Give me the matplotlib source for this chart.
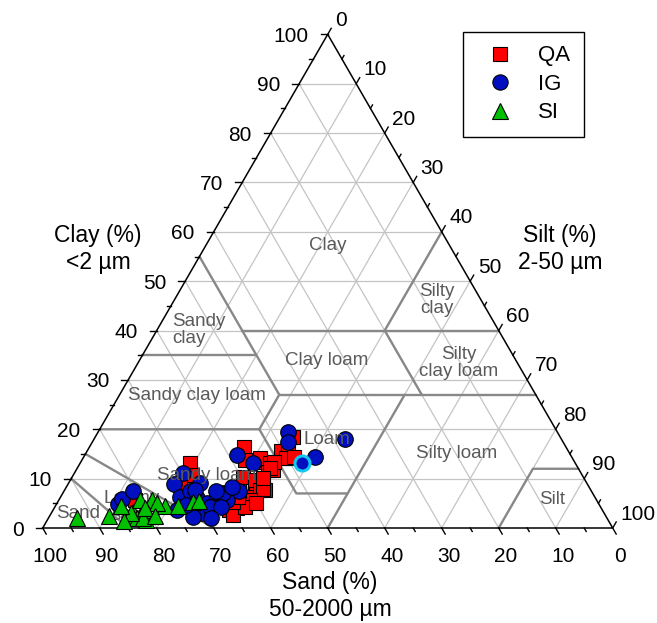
import numpy as np
import matplotlib
matplotlib.use('Agg')
import matplotlib.pyplot as plt
from matplotlib.lines import Line2D

plt.rcParams['font.family'] = ['Liberation Sans', 'DejaVu Sans']

# ---------------- data (sand %, clay %); silt = 100 - sand - clay ----------------
qa_sand = [56.5, 67.6, 68.5, 71.6, 59.6, 58.4, 58.8, 61.6, 64.0, 65.6, 65.3, 60.5,
           54.3, 54.6, 57.2, 54.8, 53.6, 53.7, 50.5, 50.4, 57.9, 58.0, 57.3, 60.8,
           61.8, 62.4, 60.0, 63.9, 46.8, 49.0, 50.2, 52.8, 54.1, 57.6, 48.8, 81.0,
           56.3, 62.6]
qa_clay = [16.5, 13.1, 10.7, 8.7, 10.4, 8.7, 7.4, 5.3, 4.0, 3.6, 2.6, 6.3,
           13.4, 11.7, 7.7, 14.1, 13.1, 11.7, 14.1, 15.5, 9.7, 7.7, 8.0, 5.7,
           7.4, 4.3, 5.0, 5.3, 18.5, 15.8, 14.1, 13.4, 12.1, 13.8, 14.4, 5.7,
           10.1, 6.3]

ig_sand = [84.3, 83.2, 80.4, 69.8, 72.6, 72.8, 74.6, 70.5, 67.9, 70.0, 70.0, 68.7,
           66.3, 67.9, 64.9, 61.8, 58.6, 56.5, 47.2, 48.3, 45.0, 38.0, 69.4, 70.6,
           68.5, 64.8, 62.6, 66.5, 72.4, 69.4, 65.9, 72.5]
ig_clay = [4.9, 5.8, 7.4, 11.1, 8.9, 6.3, 3.6, 7.4, 9.1, 6.0, 3.6, 5.1,
           6.3, 4.3, 5.7, 7.4, 14.8, 13.1, 19.5, 17.4, 14.4, 18.0, 7.7, 3.0,
           4.3, 7.0, 8.4, 4.3, 2.3, 2.0, 7.4, 4.7]

ig_highlight_sand = [47.9]
ig_highlight_clay = [13.1]

si_sand = [93.0, 87.2, 84.0, 82.5, 80.6, 78.0, 82.5, 81.0, 76.3, 74.0, 71.0, 69.8,
           80.0, 81.4, 80.0, 77.5, 80.1, 83.0, 79.0, 85.0, 84.0]
si_clay = [2.0, 2.5, 2.3, 3.3, 3.6, 5.7, 2.0, 1.6, 4.5, 4.5, 5.3, 5.5,
           3.6, 2.0, 5.7, 5.0, 4.0, 3.0, 2.5, 1.5, 4.5]

ticks = list(range(0, 101, 10))
minor_ticks = list(range(5, 100, 10))
tick_labels = [str(t) for t in ticks]

# soil texture class boundaries, as (sand, silt, clay) vertices
boundaries = [
    [(45, 0, 55), (45, 28, 27)],
    [(65, 0, 35), (45, 20, 35)],
    [(45, 15, 40), (0, 60, 40)],
    [(0, 40, 60), (20, 40, 40), (20, 53, 27)],
    [(45, 28, 27), (0, 73, 27)],
    [(45, 28, 27), (52, 28, 20), (80, 0, 20)],
    [(52, 28, 20), (52, 41, 7), (43, 50, 7)],
    [(50, 50, 0), (23, 50, 27)],
    [(0, 88, 12), (8, 80, 12), (20, 80, 0)],
    [(85, 0, 15), (70, 30, 0)],
    [(90, 0, 10), (85, 15, 0)],
]

class_names = ["Clay", "Silty\nclay", "Sandy\nclay", "Silty\nclay loam", "Clay loam",
               "Sandy clay loam", "Loam", "Silty loam", "Silt", "Sandy loam",
               "Loamy\nsand", "Sand"]

# ---------------- helpers ----------------
H = np.sqrt(3) / 2


def tern(sand, silt, clay):
    sand = np.asarray(sand, float); silt = np.asarray(silt, float); clay = np.asarray(clay, float)
    tot = sand + silt + clay
    x = (silt + clay / 2.0) / tot
    y = clay / tot * H
    return x, y


def tern_sc(sand, clay):
    sand = np.asarray(sand, float); clay = np.asarray(clay, float)
    return tern(sand, 100 - sand - clay, clay)


W_PX, H_PX = 657, 623
fig = plt.figure(figsize=(W_PX / 100, H_PX / 100), dpi=100)
ax = fig.add_axes([0, 0, 1, 1])
scale = 570.0  # pixels per unit side
x0_px, y0_px = 42.7, 95.0  # bottom-left vertex in pixel (from bottom)
ax.set_xlim(-x0_px / scale, (W_PX - x0_px) / scale)
ax.set_ylim(-y0_px / scale, (H_PX - y0_px) / scale)
ax.set_aspect('equal')
ax.axis('off')


def figpx(px, py):
    # pixel from top-left -> data coords
    return (px - x0_px) / scale, ((H_PX - py) - y0_px) / scale


# grid
grid_kw = dict(color='#c4c4c4', lw=0.9, zorder=1)
for v in range(10, 100, 10):
    xs, ys = tern([100 - v, 0], [0, 100 - v], [v, v]); ax.plot(xs, ys, **grid_kw)
    xs, ys = tern([v, v], [0, 100 - v], [100 - v, 0]); ax.plot(xs, ys, **grid_kw)
    xs, ys = tern([0, 100 - v], [v, v], [100 - v, 0]); ax.plot(xs, ys, **grid_kw)

# boundaries
for b in boundaries:
    s, si, c = zip(*b)
    xs, ys = tern(s, si, c)
    ax.plot(xs, ys, color='#888888', lw=1.7, zorder=2, solid_capstyle='round')

# triangle edges
xs, ys = tern([100, 0, 0, 100], [0, 100, 0, 0], [0, 0, 100, 0])
ax.plot(xs, ys, color='black', lw=1.1, zorder=5)

# ticks
maj = 7.0 / scale
mnr = 4.0 / scale
tick_kw = dict(color='black', lw=1.0, zorder=5)
pt = 0.72  # points per pixel at dpi 100
tfs = 15
for t, lab in zip(ticks, tick_labels):
    x, y = tern(100 - t, 0, t)
    ax.plot([x, x - maj], [y, y], **tick_kw)
    ax.annotate(lab, (x, y), xytext=(-19 * pt, -2 * pt), textcoords='offset points',
                ha='right', va='center', fontsize=tfs)
    x, y = tern(t, 100 - t, 0)
    ax.plot([x, x + maj * 0.5], [y, y - maj * H], **tick_kw)
    ax.annotate(lab, (x, y), xytext=(7 * pt, -28.5 * pt), textcoords='offset points',
                ha='center', va='center', fontsize=tfs)
    x, y = tern(0, t, 100 - t)
    ax.plot([x, x + maj * 0.5], [y, y + maj * H], **tick_kw)
    ax.annotate(lab, (x, y), xytext=(7.5 * pt, 14 * pt), textcoords='offset points',
                ha='left', va='center', fontsize=tfs)
for t in minor_ticks:
    x, y = tern(100 - t, 0, t)
    ax.plot([x, x - mnr], [y, y], **tick_kw)
    x, y = tern(t, 100 - t, 0)
    ax.plot([x, x + mnr * 0.5], [y, y - mnr * H], **tick_kw)
    x, y = tern(0, t, 100 - t)
    ax.plot([x, x + mnr * 0.5], [y, y + mnr * H], **tick_kw)

# axis titles
afs = 16.5
ax.text(*figpx(98, 249), "Clay (%)\n<2 µm", ha='center', va='center', fontsize=afs,
        linespacing=1.25)
ax.text(*figpx(560, 249), "Silt (%)\n2-50 µm", ha='center', va='center', fontsize=afs,
        linespacing=1.25)
ax.text(*figpx(330, 596), "Sand (%)\n50-2000 µm", ha='center', va='center', fontsize=afs,
        linespacing=1.25)

# class labels
lab_pos = {
    "Clay": (328, 245, 'center', 20),
    "Silty\nclay": (437, 300, 'center', 20),
    "Sandy\nclay": (172, 330, 'left', 20),
    "Silty\nclay loam": (459, 363, 'center', 20),
    "Clay loam": (327, 360, 'center', 20),
    "Sandy clay loam": (197, 396, 'center', 20),
    "Loam": (327, 439, 'center', 20),
    "Silty loam": (457, 454, 'center', 20),
    "Silt": (552, 500, 'center', 20),
    "Sandy loam": (207, 475, 'center', 20),
    "Loamy\nsand": (132, 507, 'center', 3),
    "Sand": (78, 514, 'center', 3),
}
for name in class_names:
    px, py, ha, z = lab_pos[name]
    ax.text(*figpx(px, py), name, ha=ha, va='center', fontsize=13.5, color='#5a5a5a',
            linespacing=1.05, zorder=z, multialignment='center' if ha == 'center' else 'left')

# data points
red, blue, green = '#ff0000', '#0010c0', '#00c000'
ms = 10.5
x, y = tern_sc(qa_sand, qa_clay)
ax.plot(x, y, 's', ms=ms, mfc=red, mec='black', mew=0.8, ls='none', zorder=10)
x, y = tern_sc(ig_sand, ig_clay)
ax.plot(x, y, 'o', ms=ms + 0.7, mfc=blue, mec='black', mew=0.8, ls='none', zorder=11)
x, y = tern_sc(ig_highlight_sand, ig_highlight_clay)
ax.plot(x, y, 'o', ms=ms + 0.3, mfc=blue, mec='#10c8f0', mew=2.2, ls='none', zorder=11)
x, y = tern_sc(si_sand, si_clay)
ax.plot(x, y, '^', ms=ms + 0.7, mfc=green, mec='black', mew=0.8, ls='none', zorder=12)

# legend
handles = [
    Line2D([], [], marker='s', ms=10, mfc=red, mec='black', mew=0.8, ls='none'),
    Line2D([], [], marker='o', ms=11, mfc=blue, mec='black', mew=0.8, ls='none'),
    Line2D([], [], marker='^', ms=11, mfc=green, mec='black', mew=0.8, ls='none'),
]
leg = ax.legend(handles, ["QA", "IG", "SI"], loc='upper left',
                bbox_to_anchor=(463 / W_PX, 1 - 32 / H_PX), bbox_transform=fig.transFigure,
                borderaxespad=0, fontsize=16, frameon=True, fancybox=False,
                edgecolor='black', framealpha=1, borderpad=0.6, labelspacing=0.34,
                handlelength=2.14, handletextpad=0.64)
leg.get_frame().set_linewidth(1.0)
leg.set_zorder(30)

fig.savefig('out.png', dpi=100)
